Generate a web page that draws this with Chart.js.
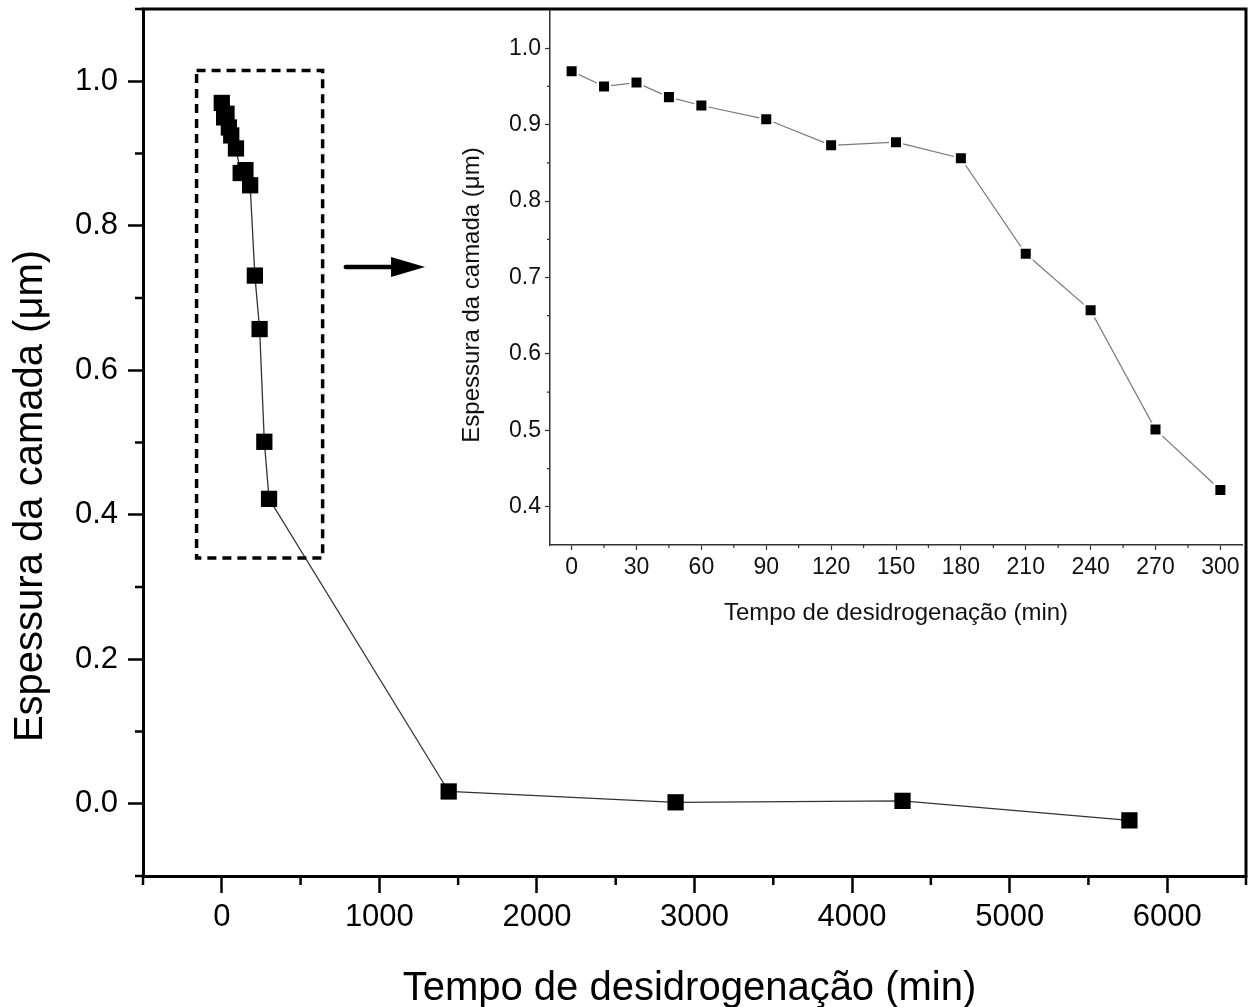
<!DOCTYPE html>
<html><head><meta charset="utf-8">
<script src="https://cdn.jsdelivr.net/npm/chart.js@4/dist/chart.umd.min.js"></script>
<style>
html,body{margin:0;padding:0;background:#fff;}
#wrap{position:relative;width:1254px;height:1007px;overflow:hidden;}
#main{position:absolute;left:0;top:0;}
#inset{position:absolute;left:440px;top:10px;}
</style></head><body>
<div id="wrap"><canvas id="main" width="1254" height="1007"></canvas><canvas id="inset" width="804" height="630"></canvas></div>
<script>
// ---- data ----
const earlyTimes = [0, 15, 30, 45, 60, 90, 120, 150, 180, 210, 240, 270, 300];
const earlyThickness = [0.970, 0.950, 0.955, 0.936, 0.925, 0.907, 0.873, 0.877, 0.856, 0.731, 0.657, 0.501, 0.422];
const lateTimes = [1440, 2880, 4320, 5760];
const lateThickness = [0.017, 0.002, 0.004, -0.023];

// ---- tick labels ----
const mainXTicks = [0, 1000, 2000, 3000, 4000, 5000, 6000];
const mainXMinor = [-500, 500, 1500, 2500, 3500, 4500, 5500, 6500];
const mainYTicks = [0.0, 0.2, 0.4, 0.6, 0.8, 1.0];
const mainYMinor = [-0.1, 0.1, 0.3, 0.5, 0.7, 0.9, 1.1];
const insetXTicks = [0, 30, 60, 90, 120, 150, 180, 210, 240, 270, 300];
const insetXMinor = [15, 45, 75, 105, 135, 165, 195, 225, 255, 285];
const insetYTicks = [0.4, 0.5, 0.6, 0.7, 0.8, 0.9, 1.0];
const insetYMinor = [0.45, 0.55, 0.65, 0.75, 0.85, 0.95];
const xTitle = 'Tempo de desidrogenação (min)';
const yTitle = 'Espessura da camada (μm)';

// zoom-box annotation in data units of the main chart
const zoomBoxX = [-160, 640];
const zoomBoxY = [0.34, 1.015];
const arrowX = [787, 1290];
const arrowY = 0.743;

const FONT = 'Liberation Sans, Arial, sans-serif';

const allTimes = earlyTimes.concat(lateTimes);
const allThickness = earlyThickness.concat(lateThickness);
const mainPoints = allTimes.map((t, i) => ({x: t, y: allThickness[i]}));
const insetPoints = earlyTimes.map((t, i) => ({x: t, y: earlyThickness[i]}));

function setTicks(arr) { return s => { s.ticks = arr.map(v => ({value: v})); }; }
function fitX(h) { return s => { s.height = h; s.paddingLeft = 0; s.paddingRight = 0; }; }
function fitY(w) { return s => { s.width = w; s.paddingTop = 0; s.paddingBottom = 0; }; }

const mainDecor = {
  id: 'mainDecor',
  afterDraw(chart) {
    const ctx = chart.ctx, a = chart.chartArea, sx = chart.scales.x, sy = chart.scales.y;
    ctx.save();
    // frame top/right
    ctx.strokeStyle = '#000'; ctx.lineWidth = 3;
    ctx.beginPath();
    ctx.moveTo(a.left - 1.5, a.top); ctx.lineTo(a.right, a.top); ctx.lineTo(a.right, a.bottom + 1.5);
    ctx.stroke();
    // minor ticks
    ctx.lineWidth = 2.5;
    ctx.beginPath();
    mainXMinor.forEach(v => { const p = sx.getPixelForValue(v); ctx.moveTo(p, a.bottom); ctx.lineTo(p, a.bottom + 9); });
    mainYMinor.forEach(v => { const p = sy.getPixelForValue(v); ctx.moveTo(a.left, p); ctx.lineTo(a.left - 8, p); });
    ctx.stroke();
    // dashed zoom box
    ctx.setLineDash([9, 6]); ctx.lineWidth = 3.5;
    const x0 = sx.getPixelForValue(zoomBoxX[0]), x1 = sx.getPixelForValue(zoomBoxX[1]);
    const y0 = sy.getPixelForValue(zoomBoxY[1]), y1 = sy.getPixelForValue(zoomBoxY[0]);
    ctx.strokeRect(x0, y0, x1 - x0, y1 - y0);
    ctx.setLineDash([]);
    // arrow
    const ax0 = sx.getPixelForValue(arrowX[0]), ax1 = sx.getPixelForValue(arrowX[1]), ay = sy.getPixelForValue(arrowY);
    ctx.lineWidth = 4.5; ctx.lineCap = 'round';
    ctx.beginPath(); ctx.moveTo(ax0, ay); ctx.lineTo(ax1 - 25, ay); ctx.stroke();
    ctx.fillStyle = '#000';
    ctx.beginPath(); ctx.moveTo(ax1, ay); ctx.lineTo(ax1 - 34, ay - 10); ctx.lineTo(ax1 - 34, ay + 10); ctx.closePath(); ctx.fill();
    // titles
    ctx.fillStyle = '#000';
    ctx.font = '40px ' + FONT;
    ctx.textAlign = 'center'; ctx.textBaseline = 'alphabetic';
    ctx.fillText(xTitle, (a.left + a.right) / 2 - 5, 1000);
    ctx.translate(42, 496); ctx.rotate(-Math.PI / 2);
    ctx.fillText(yTitle, 0, 0);
    ctx.restore();
  }
};

new Chart(document.getElementById('main'), {
  type: 'line',
  data: {datasets: [{
    data: mainPoints, borderColor: '#333', borderWidth: 1.3, tension: 0,
    pointStyle: 'rect', pointRadius: 11.5, pointBackgroundColor: '#000',
    pointBorderColor: '#000', pointBorderWidth: 0, clip: false
  }]},
  options: {
    responsive: false, animation: false, events: [],
    layout: {autoPadding: false, padding: {left: 0, top: 9, right: 8, bottom: 0}},
    plugins: {legend: {display: false}, tooltip: {enabled: false}, title: {display: false}},
    scales: {
      x: {
        type: 'linear', min: -500, max: 6500,
        afterBuildTicks: setTicks(mainXTicks), afterFit: fitX(131),
        ticks: {font: {family: FONT, size: 31}, color: '#000', padding: 6, maxRotation: 0, autoSkip: false, callback: v => String(v)},
        grid: {drawOnChartArea: false, tickLength: 17, tickWidth: 2.5, tickColor: '#000'},
        border: {color: '#000', width: 3}
      },
      y: {
        type: 'linear', min: -0.1, max: 1.1,
        afterBuildTicks: setTicks(mainYTicks), afterFit: fitY(143),
        ticks: {font: {family: FONT, size: 31}, color: '#000', padding: 10, autoSkip: false, callback: v => Number(v).toFixed(1)},
        grid: {drawOnChartArea: false, tickLength: 15, tickWidth: 2.5, tickColor: '#000'},
        border: {color: '#000', width: 3}
      }
    }
  },
  plugins: [mainDecor]
});

const insetDecor = {
  id: 'insetDecor',
  afterDraw(chart) {
    const ctx = chart.ctx, a = chart.chartArea, sx = chart.scales.x, sy = chart.scales.y;
    ctx.save();
    ctx.strokeStyle = '#333'; ctx.lineWidth = 1.2;
    ctx.beginPath();
    insetXMinor.forEach(v => { const p = sx.getPixelForValue(v); ctx.moveTo(p, a.bottom); ctx.lineTo(p, a.bottom + 3); });
    insetYMinor.forEach(v => { const p = sy.getPixelForValue(v); ctx.moveTo(a.left, p); ctx.lineTo(a.left - 3, p); });
    ctx.stroke();
    ctx.fillStyle = '#111';
    ctx.font = '24px ' + FONT;
    ctx.textAlign = 'center'; ctx.textBaseline = 'alphabetic';
    ctx.fillText(xTitle, (a.left + a.right) / 2, 610);
    ctx.translate(39, 285); ctx.rotate(-Math.PI / 2);
    ctx.fillText(yTitle, 0, 0);
    ctx.restore();
  }
};

new Chart(document.getElementById('inset'), {
  type: 'line',
  data: {datasets: [{
    data: insetPoints, borderColor: '#7a7a7a', borderWidth: 1.2, tension: 0,
    pointStyle: 'rect', pointRadius: 8.5, pointBackgroundColor: '#000',
    pointBorderColor: '#fff', pointBorderWidth: 2, clip: false
  }]},
  options: {
    responsive: false, animation: false, events: [],
    layout: {autoPadding: false, padding: {left: 0, top: 0, right: 2, bottom: 0}},
    plugins: {legend: {display: false}, tooltip: {enabled: false}},
    scales: {
      x: {
        type: 'linear', min: -10, max: 310,
        afterBuildTicks: setTicks(insetXTicks), afterFit: fitX(95),
        ticks: {font: {family: FONT, size: 23}, color: '#111', padding: 4, maxRotation: 0, autoSkip: false, callback: v => String(v)},
        grid: {drawOnChartArea: false, tickLength: 5, tickWidth: 1.2, tickColor: '#333'},
        border: {color: '#333', width: 1.5}
      },
      y: {
        type: 'linear', min: 0.35, max: 1.05,
        afterBuildTicks: setTicks(insetYTicks), afterFit: fitY(110),
        ticks: {font: {family: FONT, size: 23}, color: '#111', padding: 4, autoSkip: false, callback: v => Number(v).toFixed(1)},
        grid: {drawOnChartArea: false, tickLength: 5, tickWidth: 1.2, tickColor: '#333'},
        border: {color: '#333', width: 1.5}
      }
    }
  },
  plugins: [insetDecor]
});
</script>
</body></html>
